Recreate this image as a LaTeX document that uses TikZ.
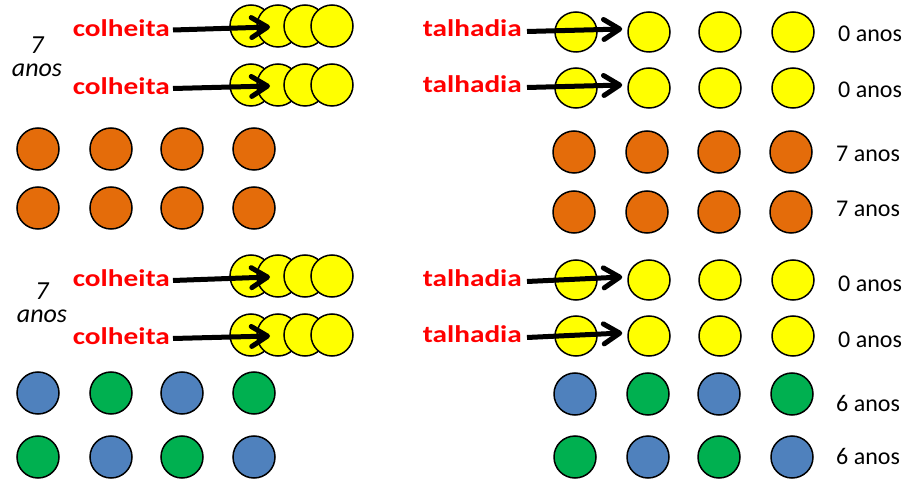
\documentclass[tikz,border=0pt]{standalone}
\usepackage{fontspec}
\setmainfont{Carlito}
\newfontfamily\cutfont{Carlito}[FakeStretch=1.22]
\usetikzlibrary{arrows.meta,shapes.geometric}
\definecolor{yel}{HTML}{FFFF00}
\definecolor{org}{HTML}{E46C0A}
\definecolor{blu}{HTML}{4F81BD}
\definecolor{grn}{HTML}{00B050}
\tikzset{
  ball/.style={circle, draw=black, line width=1.5bp, minimum size=42bp, inner sep=0pt},
  oval/.style={ellipse, draw=black, line width=1.5bp, minimum width=42bp, minimum height=40bp, inner sep=0pt},
  cutlabel/.style={font=\cutfont\bfseries\fontsize{24bp}{28bp}\selectfont, text=red, inner sep=0pt, anchor=east},
  agelabel/.style={font=\fontsize{24bp}{28bp}\selectfont, inner sep=0pt, anchor=west},
  rotation/.style={font=\itshape\fontsize{26bp}{23.5bp}\selectfont, align=center, inner sep=0pt},
  arr/.style={line width=5bp, -{Straight Barb[length=16bp,width=20bp,round]}}
}
\begin{document}
\begin{tikzpicture}[x=1bp,y=-1bp]
\path[use as bounding box] (0,0) rectangle (905,482);

% harvested stands (left): overlapping yellow clusters
\foreach \r/\y in {1/26,2/85,3/276,4/335}
  \foreach \x [count=\i] in {251,278,305,332}
    \node[ball, fill=yel] (lc\r-\i) at (\x,\y) {};

% coppiced stands (right): yellow rows
\foreach \r/\y in {1/32,2/88,3/280,4/336}
  \foreach \x [count=\i] in {576,649,720,793}
    \node[oval, fill=yel] (rc\r-\i) at (\x,\y) {};

% seven-year-old stands
\foreach \r/\y in {1/149,2/208}
  \foreach \x [count=\i] in {38,111,182,254}
    \node[ball, fill=org] (lo\r-\i) at (\x,\y) {};
\foreach \r/\y in {1/152,2/212}
  \foreach \x [count=\i] in {574,647,719,791}
    \node[ball, fill=org] (ro\r-\i) at (\x,\y) {};

% six-year-old stands, alternating clones
\foreach \x/\c [count=\i] in {38/blu,111/grn,182/blu,254/grn}
  \node[ball, fill=\c] (lb1-\i) at (\x,393) {};
\foreach \x/\c [count=\i] in {38/grn,111/blu,182/grn,254/blu}
  \node[ball, fill=\c] (lb2-\i) at (\x,457) {};
\foreach \x/\c [count=\i] in {575/blu,648/grn,719/blu,792/grn}
  \node[ball, fill=\c] (rb1-\i) at (\x,394) {};
\foreach \x/\c [count=\i] in {575/grn,648/blu,719/grn,792/blu}
  \node[ball, fill=\c] (rb2-\i) at (\x,457) {};

% operation labels
\foreach \r/\y in {1/28,2/86.5,3/278.5,4/336.5}
  \node[cutlabel] (lcut\r) at (170,\y) {colheita};
\foreach \r/\y in {1/28.5,2/84.5,3/278.5,4/334.5}
  \node[cutlabel] (rcut\r) at (522,\y) {talhadia};

% arrows
\foreach \r in {1,...,4}
  \draw[arr] ([shift={(3,2)}]lcut\r.east) -- ([shift={(-8,1)}]lc\r-2.center);
\foreach \r in {1,...,4}
  \draw[arr] ([shift={(5,3)}]rcut\r.east) -- ([shift={(-5,-3)}]rc\r-2.west);

% rotation length
\node[rotation] (rot1) at (37,56.7) {7\\anos};
\node[rotation] (rot2) at (42,303) {7\\anos};

% stand ages
\node[agelabel] (a1) at (838,34) {0 anos};
\node[agelabel] (a2) at (838,90) {0 anos};
\node[agelabel] (a3) at (836,153.5) {7 anos};
\node[agelabel] (a4) at (836,208.5) {7 anos};
\node[agelabel] (a5) at (838,283.5) {0 anos};
\node[agelabel] (a6) at (838,340) {0 anos};
\node[agelabel] (a7) at (836,403) {6 anos};
\node[agelabel] (a8) at (836,456) {6 anos};
\end{tikzpicture}
\end{document}
